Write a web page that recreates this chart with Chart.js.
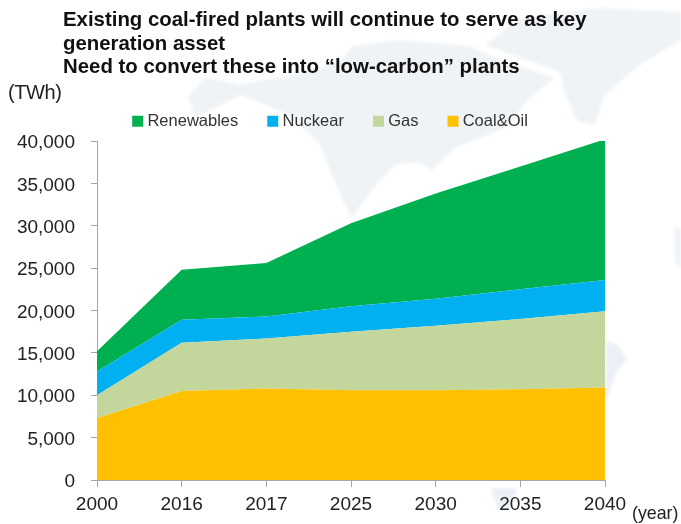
<!DOCTYPE html>
<html><head><meta charset="utf-8">
<script src="https://cdn.jsdelivr.net/npm/chart.js@4/dist/chart.umd.min.js"></script>
<style>
html,body{margin:0;padding:0;background:#fff;width:681px;height:524px;overflow:hidden;font-family:"Liberation Sans",Arial,sans-serif}
#bg{position:absolute;left:0;top:0}
#wrap{position:absolute;left:0;top:0;width:681px;height:524px}
.t{position:absolute;white-space:nowrap;color:#111}
#title{left:63px;top:8px;font-size:20.4px;font-weight:bold;line-height:23.6px}
</style></head><body>
<svg id="bg" width="681" height="524"><defs><filter id="s"><feGaussianBlur stdDeviation="1.5"/></filter></defs><g fill="#f0f3f6" filter="url(#s)">
<path d="M188 96 L205 78 L240 84 L290 76 L340 62 L352 46 L400 40 L470 46 L505 62 L555 78 L530 98 L505 128 L455 148 L432 170 L418 162 L395 165 L372 190 L352 218 L345 205 L330 170 L320 145 L290 115 L240 95 L195 118 Z"/>
<path d="M485 45 L520 18 L600 8 L681 12 L681 40 L640 65 L605 95 L595 125 L578 122 L565 95 L560 72 Z"/>
<path d="M606 341 L618 345 L627 358 L615 375 L608 398 L605 398 Z" fill="#ecf0f6"/>
<path d="M491 488 L518 488 L510 508 L498 510 Z" fill="#ecf0f6"/>
<path d="M674 226 L681 230 L681 270 L675 262 Z"/>
</g></svg>
<div id="wrap"><canvas id="c" width="681" height="524"></canvas></div>
<div id="title" class="t">Existing coal-fired plants will continue to serve as key<br>generation asset<br>Need to convert these into “low-carbon” plants</div>
<div class="t" style="left:8px;top:81px;font-size:20px;letter-spacing:-.4px;color:#222">(TWh)</div>
<div class="t" style="left:632px;top:503px;font-size:17.8px;color:#222">(year)</div>
<script>
const categories=["2000","2016","2017","2025","2030","2035","2040"];
const coalOil=[7300,10500,10800,10600,10600,10700,10900];
const gas=[2700,5700,5900,6900,7600,8300,9000];
const nuclear=[2800,2700,2600,3000,3200,3500,3700];
const renewables=[2400,5900,6300,9800,12400,14500,16600];
const yTicks=[0,5000,10000,15000,20000,25000,30000,35000,40000];
const ds=(label,data,color,fill)=>({label,data,backgroundColor:color,borderColor:color,borderWidth:0,pointRadius:0,fill,tension:0});
const fixLegend={id:'fixLegend',
 beforeLayout(c){
  const l=c.legend; if(!l||l._patched) return; l._patched=true;
  const f=l.fit; l.fit=function(){f.call(this); this.height=61;};
 },
 afterLayout(c){const l=c.legend; l.left+=29.5; l.right+=29.5;}
};
new Chart(document.getElementById('c'),{
 type:'line',
 data:{labels:categories,datasets:[
  ds('Coal&Oil',coalOil,'#ffc000','origin'),
  ds('Gas',gas,'#c3d69b','-1'),
  ds('Nuckear',nuclear,'#00b0f0','-1'),
  ds('Renewables',renewables,'#00b050','-1')
 ]},
 options:{
  responsive:false,animation:false,
  layout:{padding:{left:0,right:76,top:80,bottom:0}},
  plugins:{
   tooltip:{enabled:false},
   title:{display:false},
   legend:{display:true,position:'top',reverse:true,align:'center',
    labels:{usePointStyle:true,pointStyle:'rect',boxWidth:3,boxHeight:11,padding:33,color:'#333',font:{size:16.5,family:'"Liberation Sans"'}}}
  },
  scales:{
   x:{stacked:true,offset:false,afterFit:s=>{s.height=44},grid:{drawOnChartArea:false,tickLength:7,color:'#a6a6a6'},border:{color:'#a6a6a6'},
      ticks:{color:'#222',padding:6,maxRotation:0,font:{size:19,family:'"Liberation Sans"'}}},
   y:{stacked:true,min:0,max:40000,afterFit:s=>{s.width=97},afterBuildTicks:a=>{a.ticks=yTicks.map(v=>({value:v}))},grid:{drawOnChartArea:false,tickLength:6,color:'#a6a6a6'},border:{color:'#a6a6a6'},
      ticks:{color:'#222',padding:16,labelOffset:2,font:{size:19,family:'"Liberation Sans"'},callback:v=>v.toLocaleString('en-US')}}
  }
 },
 plugins:[fixLegend]
});
</script>
</body></html>
